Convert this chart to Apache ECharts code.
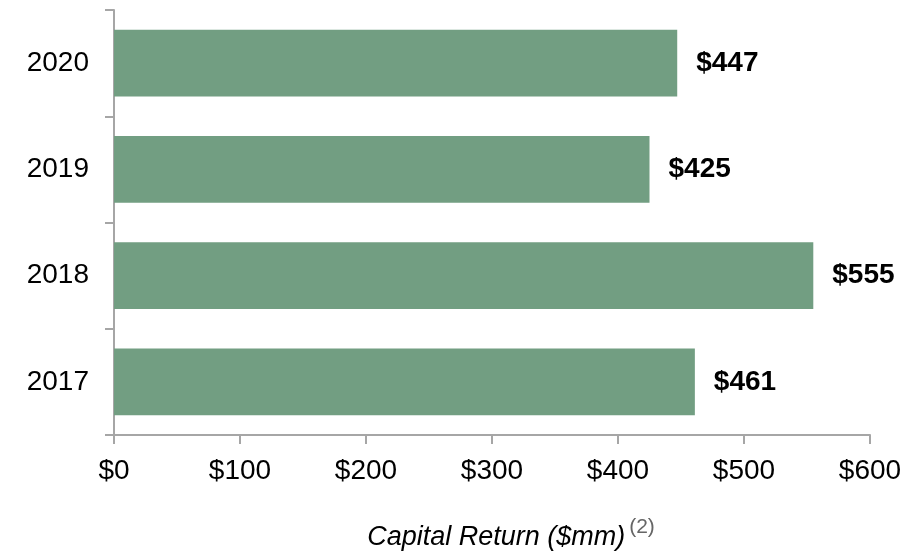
<!DOCTYPE html>
<html>
<head>
<meta charset="utf-8">
<script src="https://cdn.jsdelivr.net/npm/echarts@6/dist/echarts.min.js"></script>
<style>
  html, body { margin: 0; padding: 0; background: #fff; }
  #chart { width: 922px; height: 553px; }
</style>
</head>
<body>
<div id="chart"></div>
<script>
var years = ['2017', '2018', '2019', '2020'];
var capitalReturn = [461, 555, 425, 447];
var xTicks = [0, 100, 200, 300, 400, 500, 600];

var myChart = echarts.init(document.getElementById('chart'));
var font = '"Liberation Sans", Arial, sans-serif';
var axisGray = '#a6a6a6';

var option = {
    animation: false,
    textStyle: { fontFamily: font },
    grid: { left: 114, right: 52, top: 10, bottom: 118, containLabel: false, outerBoundsMode: 'none' },
    xAxis: {
        type: 'value',
        min: xTicks[0],
        max: xTicks[xTicks.length - 1],
        interval: 100,
        splitLine: { show: false },
        axisLine: { show: true, lineStyle: { color: axisGray, width: 2 } },
        axisTick: { show: true, length: 9, lineStyle: { color: axisGray, width: 2 } },
        axisLabel: {
            color: '#000', fontSize: 28, margin: 22, fontFamily: font,
            formatter: function (v) { return '$' + v; }
        },
        name: '{a|Capital Return ($mm)}{b|(2)}',
        nameLocation: 'middle',
        nameGap: 82,
        nameTextStyle: {
            rich: {
                a: { fontSize: 27, fontStyle: 'italic', color: '#000', fontFamily: font, padding: [0, 0, 0, 38] },
                b: { fontSize: 21, color: '#666', fontFamily: font, verticalAlign: 'top', padding: [0, 0, 20, 4] }
            }
        }
    },
    yAxis: {
        type: 'category',
        data: years,
        axisLine: { show: true, lineStyle: { color: axisGray, width: 2 } },
        axisTick: { show: true, length: 9, lineStyle: { color: axisGray, width: 2 } },
        axisLabel: { color: '#000', fontSize: 28, margin: 25, fontFamily: font }
    },
    series: [{
        type: 'bar',
        data: capitalReturn,
        barWidth: '63%',
        itemStyle: { color: '#729e82' },
        label: {
            show: true,
            position: 'right',
            distance: 19,
            color: '#000',
            fontSize: 28,
            fontWeight: 'bold',
            fontFamily: font,
            formatter: function (p) { return '$' + p.value; }
        }
    }]
};

myChart.setOption(option);
</script>
</body>
</html>
